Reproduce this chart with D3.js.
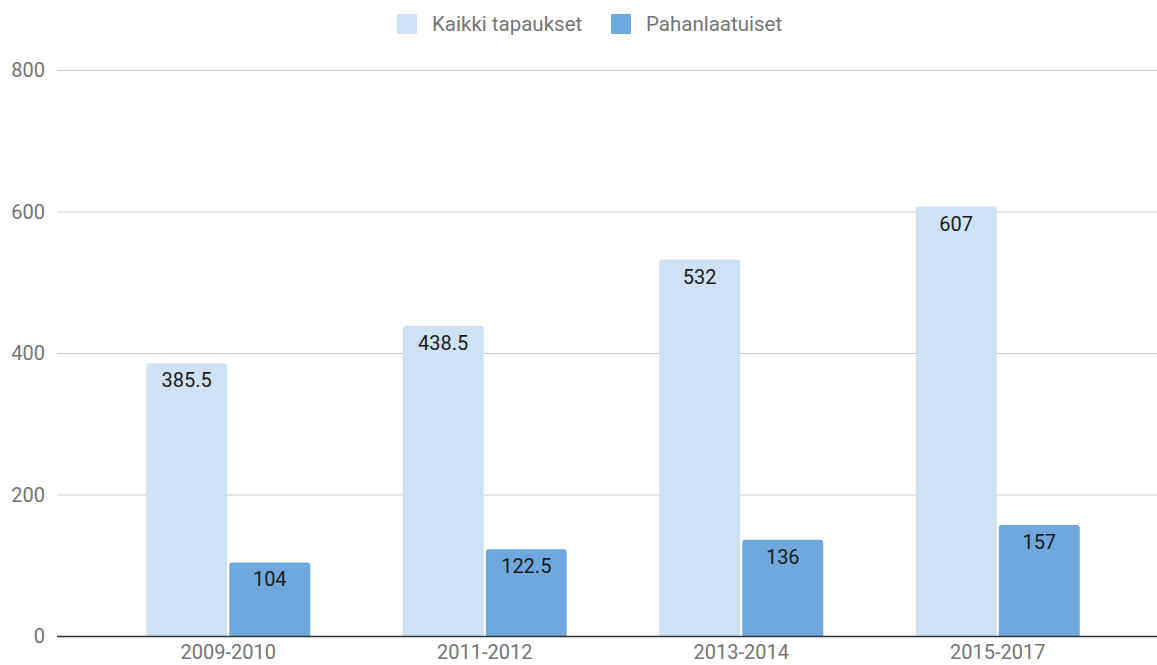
<!DOCTYPE html>
<html>
<head>
<meta charset="utf-8">
<script src="https://cdn.jsdelivr.net/npm/d3@7"></script>
<style>
  body { margin: 0; background: #fff; }
  text { font-family: Roboto, "Noto Sans", sans-serif; }
</style>
</head>
<body>
<script>
var categories = ["2009-2010", "2011-2012", "2013-2014", "2015-2017"];
var seriesNames = ["Kaikki tapaukset", "Pahanlaatuiset"];
var allCases = [385.5, 438.5, 532, 607];
var malignant = [104, 122.5, 136, 157];
var yTicks = [0, 200, 400, 600, 800];
var colors = ["#cfe2f3", "#6fa8dc"];

var width = 1157,
    height = 665,
    plot = { left: 57, right: 1157, top: 70, bottom: 636 };

var svg = d3.select("body").append("svg")
    .attr("width", width)
    .attr("height", height);

var x = d3.scaleBand().domain(categories).range([100, 1126]).paddingInner(0).paddingOuter(0);
var y = d3.scaleLinear().domain([0, 800]).range([plot.bottom, plot.top]);
var inner = d3.scaleBand().domain([0, 1]).range([-82, 82]).paddingInner(0.025);

// gridlines
svg.append("g").selectAll("line")
    .data(yTicks.filter(function(d) { return d > 0; }))
    .enter().append("line")
    .attr("x1", plot.left).attr("x2", plot.right)
    .attr("y1", function(d) { return y(d) + 0.5; })
    .attr("y2", function(d) { return y(d) + 0.5; })
    .attr("stroke", "#cccccc").attr("stroke-width", 1);

// y labels
svg.append("g").selectAll("text")
    .data(yTicks)
    .enter().append("text")
    .attr("x", 45)
    .attr("y", function(d) { return y(d) + 7; })
    .attr("text-anchor", "end")
    .attr("fill", "#757575")
    .style("font-size", "20px")
    .text(function(d) { return d; });

// rounded-top bar path
function barPath(x0, w, yTop, yBot, r) {
    r = Math.min(r, w / 2, yBot - yTop);
    return "M" + x0 + "," + yBot +
        "V" + (yTop + r) +
        "Q" + x0 + "," + yTop + " " + (x0 + r) + "," + yTop +
        "H" + (x0 + w - r) +
        "Q" + (x0 + w) + "," + yTop + " " + (x0 + w) + "," + (yTop + r) +
        "V" + yBot + "Z";
}

var series = [allCases, malignant];
series.forEach(function(vals, s) {
    var g = svg.append("g");
    g.selectAll("path")
        .data(vals)
        .enter().append("path")
        .attr("d", function(d, i) {
            var cx = x(categories[i]) + x.bandwidth() / 2;
            return barPath(cx + inner(s), inner.bandwidth(), y(d), y(0), 3);
        })
        .attr("fill", colors[s]);
    g.selectAll("text")
        .data(vals)
        .enter().append("text")
        .attr("x", function(d, i) {
            return x(categories[i]) + x.bandwidth() / 2 + inner(s) + inner.bandwidth() / 2;
        })
        .attr("y", function(d) { return y(d) + 24; })
        .attr("text-anchor", "middle")
        .attr("fill", "#1a1a1a")
        .style("font-size", "20px")
        .text(function(d) { return d; });
});

// baseline
svg.append("line")
    .attr("x1", plot.left).attr("x2", plot.right)
    .attr("y1", y(0) + 0.5).attr("y2", y(0) + 0.5)
    .attr("stroke", "#333333").attr("stroke-width", 1.5);

// x labels
var xAxis = d3.axisBottom(x).tickSize(0).tickPadding(0);
var xg = svg.append("g")
    .attr("transform", "translate(0," + y(0) + ")")
    .call(xAxis);
xg.select(".domain").remove();
xg.selectAll("text")
    .attr("y", 23)
    .attr("dy", null)
    .attr("fill", "#757575")
    .style("font-size", "20px")
    .style("font-family", "Roboto, sans-serif");

// legend
var legendX = [397, 611];
var legend = svg.append("g").selectAll("g")
    .data(seriesNames)
    .enter().append("g")
    .attr("transform", function(d, i) { return "translate(" + legendX[i] + ",14)"; });
legend.append("rect")
    .attr("width", 20).attr("height", 20).attr("rx", 1)
    .attr("fill", function(d, i) { return colors[i]; });
legend.append("text")
    .attr("x", 35).attr("y", 17)
    .attr("fill", "#757575")
    .style("font-size", "20.5px")
    .text(function(d) { return d; });
</script>
</body>
</html>
